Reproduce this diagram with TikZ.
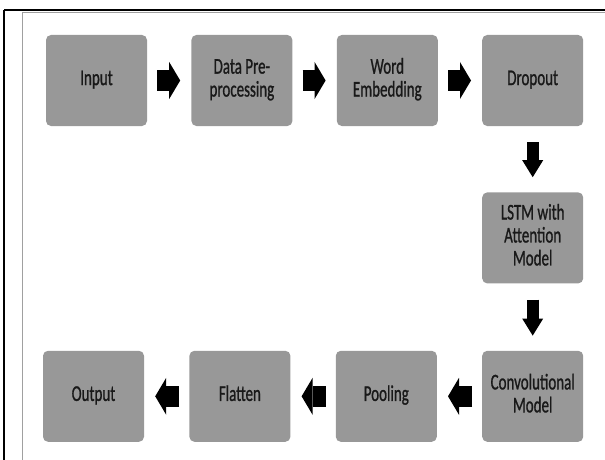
\documentclass[tikz,border=0pt]{standalone}
\usepackage{fontspec}
\setmainfont{Carlito}
\newfontfamily\cajafont{Carlito}[FakeBold=1.2]
\usepackage{xcolor}
\definecolor{cajagris}{RGB}{152,152,152}
\definecolor{textogris}{RGB}{25,25,25}
\definecolor{marcogris}{RGB}{160,160,160}
\usepackage{tikz}
\usetikzlibrary{shapes, arrows, positioning, arrows.meta}
% texto estirado en vertical dentro de las cajas
\newcommand{\texto}[1]{\scalebox{1}[1.5]{\cajafont\fontsize{15}{15.3}\selectfont
    \begin{tabular}{@{}c@{}}#1\end{tabular}}}

\begin{document}
\begin{tikzpicture}[x=1pt, y=-1pt,
    caja/.style={fill=cajagris, rounded corners=5pt, minimum width=101pt, minimum height=91pt,
        inner sep=2pt, text=textogris},
    flechah/.style={line width=21pt, -{Triangle[length=11pt, width=37pt, line width=0pt]},
        shorten <=10pt, shorten >=11pt},
    flechav/.style={line width=12pt, -{Triangle[length=17pt, width=21pt, line width=0pt]},
        shorten <=16pt, shorten >=15pt}]
    \useasboundingbox (0,0) rectangle (605,460);
    % Marco exterior y linea gris interior
    \draw[marcogris, line width=1pt] (22,13) -- (605,13);
    \draw[marcogris, line width=1pt] (22,13) -- (22,460);
    \draw[black, line width=1.6pt] (4,10) -- (605,10);
    \draw[black, line width=1.4pt] (4,10) -- (4,460);

    % Fila superior
    \node[caja] (input) at (96.5,80.5) {\texto{Input}};
    \node[caja, right=44pt of input] (prepro) {\texto{Data Pre-\\processing}};
    \node[caja, right=44pt of prepro] (embed) {\texto{Word\\Embedding}};
    \node[caja, right=44pt of embed] (drop) {\texto{Dropout}};
    % Columna derecha
    \node[caja, below=66pt of drop] (lstm) {\texto{LSTM with\\Attention\\Model}};
    \node[caja, below=67pt of lstm] (conv) {\texto{Convolutional\\Model}};
    % Fila inferior (de derecha a izquierda)
    \node[caja, left=45pt of conv] (pool) {\texto{Pooling}};
    \node[caja, left=45pt of pool] (flat) {\texto{Flatten}};
    \node[caja, left=45pt of flat] (output) {\texto{Output}};

    % Flechas gruesas entre las cajas
    \draw[flechah] (input.east) -- (prepro.west);
    \draw[flechah] (prepro.east) -- (embed.west);
    \draw[flechah] (embed.east) -- (drop.west);
    \draw[flechav] (drop.south) -- (lstm.north);
    \draw[flechav] (lstm.south) -- (conv.north);
    \foreach \a/\b in {conv/pool, pool/flat, flat/output}
        \draw[flechah] (\a.west) -- (\b.east);
\end{tikzpicture}
\end{document}
